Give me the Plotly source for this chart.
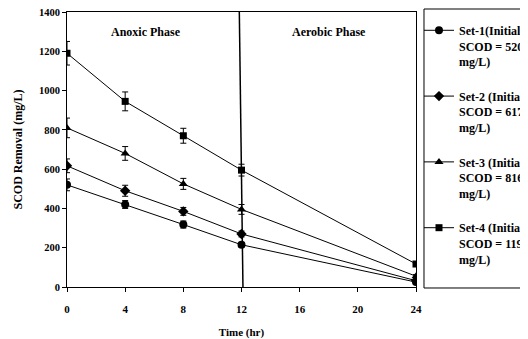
import plotly.graph_objects as go

time_hr = [0, 4, 8, 12, 24]

set1 = [520, 420, 318, 215, 25]
set1_err = [30, 20, 18, 12, 8]
set2 = [617, 490, 385, 270, 32]
set2_err = [35, 28, 20, 15, 8]
set3 = [810, 680, 525, 395, 55]
set3_err = [50, 35, 28, 25, 8]
set4 = [1190, 945, 770, 595, 117]
set4_err = [60, 48, 38, 30, 10]

names = ["<b>Set-1(Initial<br>SCOD = 520<br>mg/L)</b>",
         "<b>Set-2 (Initial<br>SCOD = 617<br>mg/L)</b>",
         "<b>Set-3 (Initial<br>SCOD = 816<br>mg/L)</b>",
         "<b>Set-4 (Initial<br>SCOD = 1190<br>mg/L)</b>"]
symbols = ["circle", "diamond", "triangle-up", "square"]
sizes = [8, 8, 8, 7]

x_ticks = [0, 4, 8, 12, 16, 20, 24]
y_ticks = [0, 200, 400, 600, 800, 1000, 1200, 1400]

font_family = "Liberation Serif"

fig = go.Figure()
for i, (vals, errs, name, sym, sz) in enumerate(zip([set1, set2, set3, set4],
                                     [set1_err, set2_err, set3_err, set4_err],
                                     names, symbols, sizes)):
    fig.add_trace(go.Scatter(
        x=time_hr, y=vals, name=name, mode="lines+markers", legendgroup=f"g{i}",
        line=dict(color="black", width=1),
        marker=dict(symbol=sym, size=sz, color="black"),
        error_y=dict(type="data", array=errs, visible=True,
                     color="black", thickness=1, width=3),
    ))

# phase separator line
fig.add_shape(type="line", xref="x", yref="y", x0=11.85, y0=1400, x1=12.1, y1=0,
              line=dict(color="black", width=1.5))

# legend frame
fig.add_shape(type="rect", xref="paper", yref="paper", x0=1.0229, y0=-0.0036,
              x1=1.5, y1=1.0109, line=dict(color="black", width=1),
              fillcolor="rgba(0,0,0,0)", layer="below")

fig.add_annotation(x=5.4, y=1298, text="<b>Anoxic Phase</b>", showarrow=False,
                   font=dict(family=font_family, size=12, color="black"))
fig.add_annotation(x=18.0, y=1298, text="<b>Aerobic Phase</b>", showarrow=False,
                   font=dict(family=font_family, size=12, color="black"))

axis_font = dict(family=font_family, size=11, color="black")

fig.update_layout(
    width=520, height=331,
    margin=dict(l=59, r=112, t=4, b=52, autoexpand=False),
    paper_bgcolor="white", plot_bgcolor="white",
    font=dict(family=font_family, color="black"),
    showlegend=True,
    legend=dict(
        x=1.0086, xanchor="left", y=0.9855, yanchor="top",
        borderwidth=0, bgcolor="rgba(0,0,0,0)",
        font=dict(family=font_family, size=12, color="black"),
        tracegroupgap=16, itemwidth=30, valign="top", maxheight=1,
    ),
    xaxis=dict(
        range=[0, 24], tickvals=x_ticks, ticktext=[f"<b>{v}</b>" for v in x_ticks],
        showline=True, linecolor="black", linewidth=1, mirror=True,
        ticks="outside", ticklen=4, tickcolor="black",
        showgrid=False, zeroline=False, tickfont=axis_font,
        ticklabelstandoff=8, ticklabeloverflow="allow",
        title=dict(text="<b>Time (hr)</b>", font=axis_font, standoff=14),
    ),
    yaxis=dict(
        range=[0, 1400], tickvals=y_ticks, ticktext=[f"<b>{v}</b>" for v in y_ticks],
        showline=True, linecolor="black", linewidth=1, mirror=True,
        ticks="outside", ticklen=4, tickcolor="black",
        showgrid=False, zeroline=False, tickfont=dict(family=font_family, size=10.5, color="black"),
        ticklabeloverflow="allow",
        title=dict(text="<b>SCOD Removal (mg/L)</b>", font=dict(family=font_family, size=12, color="black"), standoff=13),
    ),
)

fig.write_html("out.html")
